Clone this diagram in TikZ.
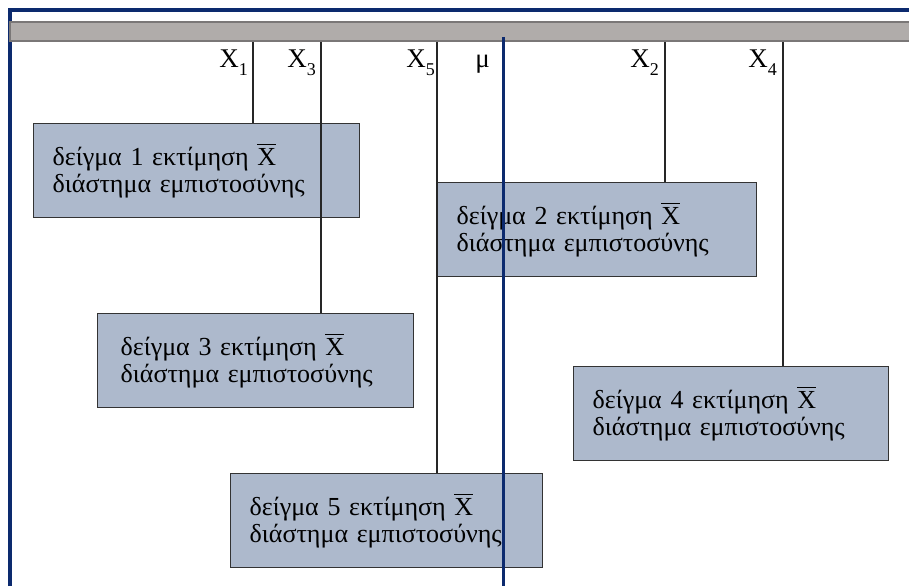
\documentclass[tikz,border=0pt]{standalone}
\usepackage{fontspec}
\setmainfont{Liberation Serif}
\definecolor{navy}{HTML}{0C2A6E}
\definecolor{barfill}{HTML}{B0ACAA}
\definecolor{barline}{HTML}{7A7777}
\definecolor{boxfill}{HTML}{ADB9CC}
\definecolor{boxline}{HTML}{333333}
\newcommand\xbar{\leavevmode\hbox{\setbox0\hbox{X}\rlap{\raisebox{\dimexpr\ht0+3pt\relax}{\rule{\wd0}{1.5pt}}}\box0}}
\newcommand\lbl[1]{X\raisebox{-8pt}{\fontsize{18}{18}\selectfont #1}}
\begin{document}
\begin{tikzpicture}[x=1pt,y=-1pt,
  sample/.style={draw=boxline, line width=1.3pt, fill=boxfill, anchor=north west,
    minimum height=94pt, inner xsep=19pt, inner ysep=0pt, align=left,
    font=\fontsize{26}{27}\selectfont},
  tick/.style={draw=black!85, line width=1.2pt},
  lab/.style={anchor=base east, inner sep=0pt, font=\fontsize{27}{27}\selectfont},
  frame/.style={draw=navy, line width=4pt},
  mu/.style={draw=navy, line width=3pt}
]
\useasboundingbox (0,0) rectangle (909,586);
\fill[white] (0,0) rectangle (909,586);
% frame
\coordinate (fb) at (10,586);
\coordinate (fc) at (10,10);
\coordinate (fr) at (912,10);
\draw[frame] (fb) -- (fc) -- (fr);
% bar
\draw[draw=barline, line width=1.8pt, fill=barfill] (10,22) rectangle (912,41);
% sample boxes
\node[sample, text width=288pt, minimum width=326pt] (b1) at (33,123)
  {δείγμα 1 εκτίμηση \xbar\\διάστημα εμπιστοσύνης};
\node[sample, text width=281pt, minimum width=319pt] (b2) at (437,182)
  {δείγμα 2 εκτίμηση \xbar\\διάστημα εμπιστοσύνης};
\node[sample, text width=270pt, minimum width=316pt, inner xsep=23pt] (b3) at (97,313)
  {δείγμα 3 εκτίμηση \xbar\\διάστημα εμπιστοσύνης};
\node[sample, text width=277pt, minimum width=315pt] (b4) at (573,366)
  {δείγμα 4 εκτίμηση \xbar\\διάστημα εμπιστοσύνης};
\node[sample, text width=274pt, minimum width=312pt] (b5) at (230,473)
  {δείγμα 5 εκτίμηση \xbar\\διάστημα εμπιστοσύνης};
% tick coordinates on the bar
\coordinate (t1) at (253,42);
\coordinate (t3) at (321,42);
\coordinate (t5) at (437,42);
\coordinate (t2) at (665,42);
\coordinate (t4) at (783,42);
\draw[tick] (t1) -- (t1 |- b1.north);
\draw[tick] (t3) -- (t3 |- b3.north);
\draw[tick] (t5) -- (t5 |- b5.north);
\draw[tick] (t2) -- (t2 |- b2.north);
\draw[tick] (t4) -- (t4 |- b4.north);
% mu line
\coordinate (mt) at (503,37);
\coordinate (mb) at (503,586);
\draw[mu] (mt) -- (mb);
% labels
\node[lab] (l1) at (248,67) {\lbl{1}};
\node[lab] (l3) at (316,67) {\lbl{3}};
\node[lab] (l5) at (435,67) {\lbl{5}};
\node[lab] (lm) at (490,67) {μ};
\node[lab] (l2) at (659,67) {\lbl{2}};
\node[lab] (l4) at (777,67) {\lbl{4}};
\end{tikzpicture}
\end{document}
